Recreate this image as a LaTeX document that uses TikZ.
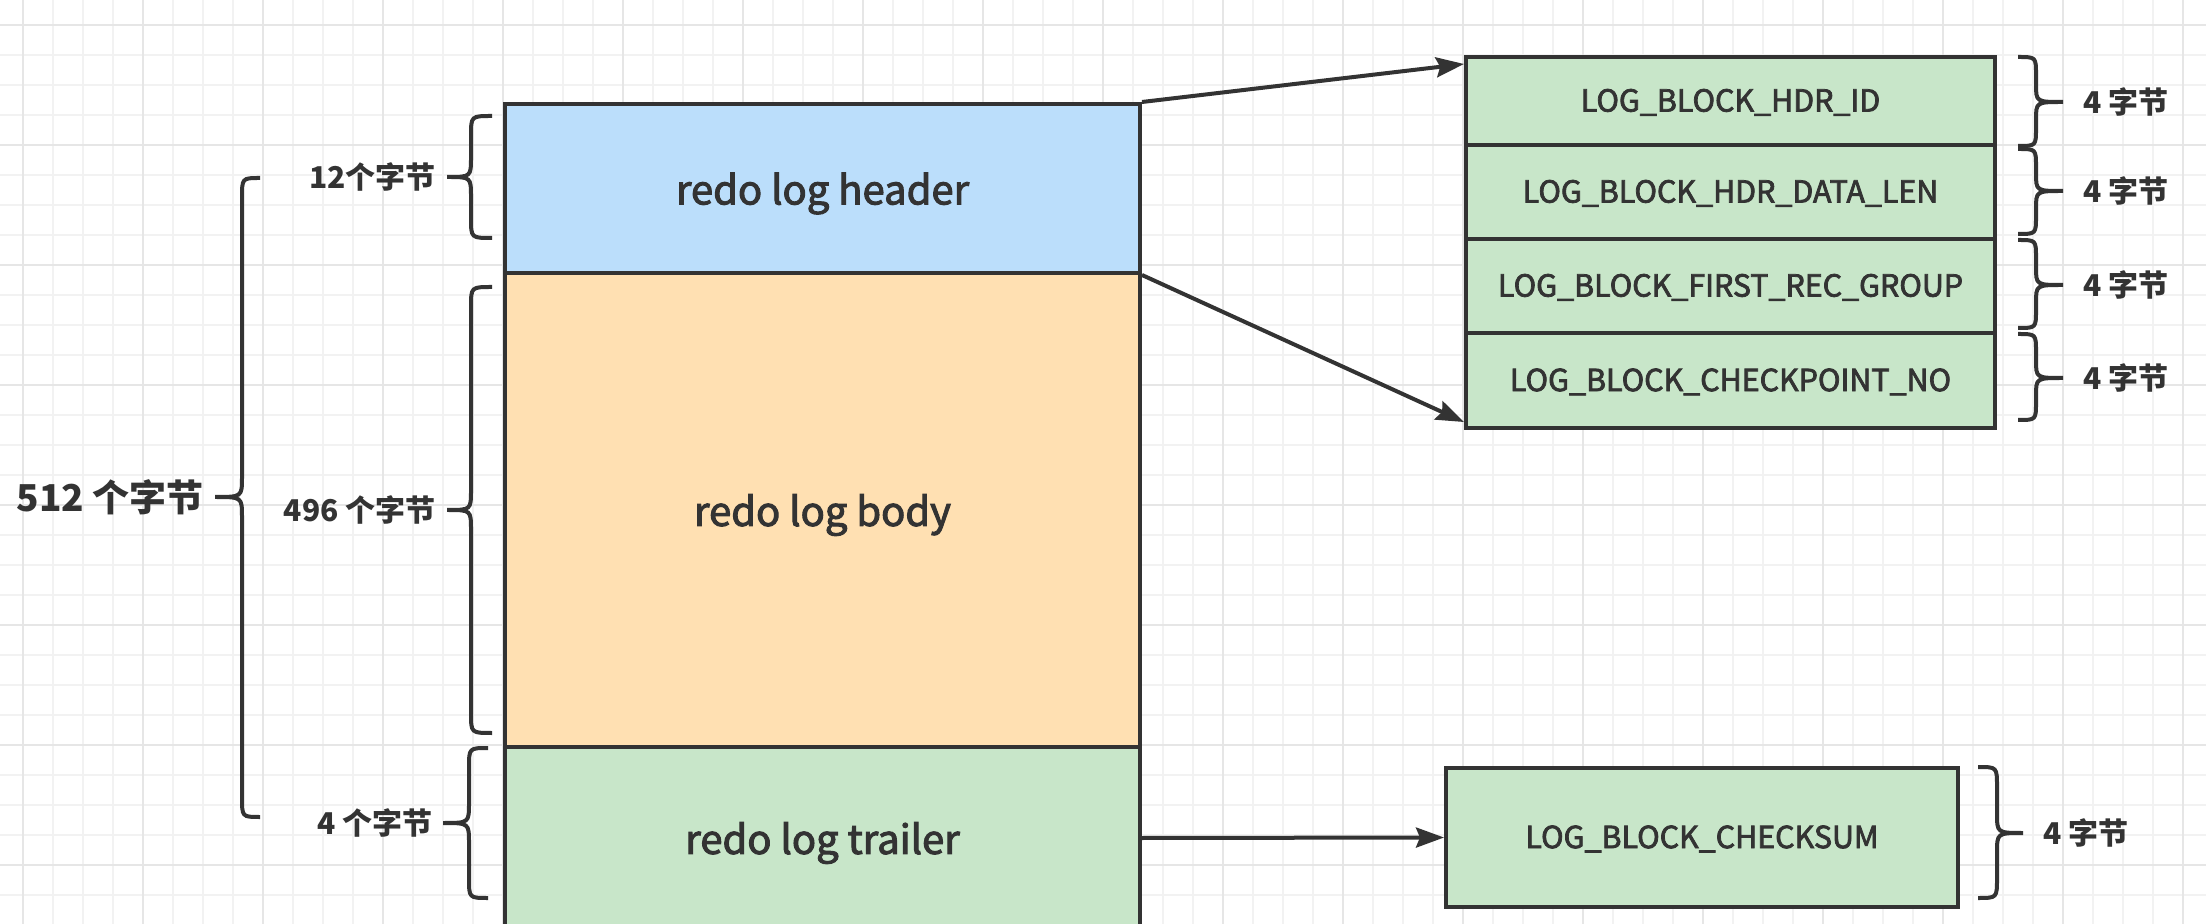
\documentclass[tikz,border=0pt]{standalone}
\usepackage{fontspec}
\setmainfont{Noto Sans CJK SC}
\newfontfamily\medfont{Noto Sans CJK SC}[FakeBold=2.5]
\usetikzlibrary{arrows.meta}
\definecolor{ink}{HTML}{333333}
\definecolor{hdrblue}{HTML}{BBDEFB}
\definecolor{bodyorange}{HTML}{FFE0B2}
\definecolor{fieldgreen}{HTML}{C8E6C9}
\definecolor{gridminor}{HTML}{F2F2F2}
\definecolor{gridmajor}{HTML}{E6E6E6}
\newcommand{\lowtxt}[1]{\raisebox{-2.5pt}[\height][\depth]{#1}}
\newcommand{\lowfld}[1]{\raisebox{-0.7pt}[\height][\depth]{#1}}
\tikzset{
  blk/.style={draw=ink, line width=2pt, text=ink, inner sep=0pt, minimum width=317.5pt, font=\medfont\fontsize{20}{24}\selectfont},
  fld/.style={draw=ink, line width=2pt, fill=fieldgreen, text=ink, inner sep=0pt, minimum width=264.5pt, font=\medfont\fontsize{15.2}{18}\selectfont},
  arr/.style={draw=ink, line width=2pt, -{Stealth[length=14pt,width=10pt,inset=2pt]}},
  brc/.style={draw=ink, line width=2pt},
  lbl/.style={text=ink, inner sep=0pt, font=\fontsize{15}{18}\selectfont\bfseries},
}
\begin{document}
\begin{tikzpicture}[x=0.5pt,y=-0.5pt]
\useasboundingbox (0,0) rectangle (2206,924);
\fill[white] (0,0) rectangle (2206,924);
% grid
\foreach \gx in {23,53,...,2206} {\draw[gridminor, line width=0.6pt] (\gx,0) -- (\gx,924);}
\foreach \gy in {25,55,...,924} {\draw[gridminor, line width=0.6pt] (0,\gy) -- (2206,\gy);}
\foreach \gx in {23,143,...,2206} {\draw[gridmajor, line width=0.8pt] (\gx,0) -- (\gx,924);}
\foreach \gy in {25,145,...,924} {\draw[gridmajor, line width=0.8pt] (0,\gy) -- (2206,\gy);}

% main blocks
\node[blk, fill=hdrblue, minimum height=84.5pt] (hdr) at (822.5,188.5) {\lowtxt{redo log header}};
\node[blk, fill=bodyorange, minimum height=237pt] (body) at (822.5,510) {\lowtxt{redo log body}};
\node[blk, fill=fieldgreen, minimum height=91pt] (trl) at (822.5,838) {\lowtxt{redo log trailer}};

% header fields
\node[fld, minimum height=44pt] (f1) at (1730.5,101) {\lowfld{LOG\_BLOCK\_HDR\_ID}};
\node[fld, minimum height=47pt] (f2) at (1730.5,192) {\lowfld{LOG\_BLOCK\_HDR\_DATA\_LEN}};
\node[fld, minimum height=47pt] (f3) at (1730.5,286) {\lowfld{LOG\_BLOCK\_FIRST\_REC\_GROUP}};
\node[fld, minimum height=47.5pt] (f4) at (1730.5,380.5) {\lowfld{LOG\_BLOCK\_CHECKPOINT\_NO}};
\node[fld, minimum width=256pt, minimum height=69.5pt] (cs) at (1702,837.5) {\lowfld{LOG\_BLOCK\_CHECKSUM}};

% arrows
\draw[arr] (hdr.north east) -- ([yshift=-4.5pt]f1.north west);
\draw[arr] (hdr.south east) -- ([yshift=4pt]f4.south west);
\draw[arr] (trl.east) -- (cs.west);

% left braces
\draw[brc] (492,116) .. controls (471,116) .. (471,136) -- (471,157) .. controls (471,177) .. (447,177) .. controls (471,177) .. (471,197) -- (471,218) .. controls (471,238) .. (492,238);
\draw[brc] (492,287) .. controls (471,287) .. (471,307) -- (471,490) .. controls (471,510) .. (447,510) .. controls (471,510) .. (471,530) -- (471,713) .. controls (471,733) .. (492,733);
\draw[brc] (488,748) .. controls (469,748) .. (469,768) -- (469,803) .. controls (469,823) .. (443,823) .. controls (469,823) .. (469,843) -- (469,878) .. controls (469,898) .. (488,898);
\draw[brc] (260,178) .. controls (242,178) .. (242,198) -- (242,477) .. controls (242,497) .. (215,497) .. controls (242,497) .. (242,517) -- (242,797) .. controls (242,817) .. (260,817);

\node[lbl, anchor=east] (l12) at (436,177) {12个字节};
\node[lbl, anchor=east] (l496) at (436,510) {496 个字节};
\node[lbl, anchor=east] (l4) at (433,823) {4 个字节};
\node[lbl, anchor=east, font=\fontsize{18.5}{22}\selectfont\bfseries] (l512) at (204,497) {512 个字节};

% right braces
\foreach \yt/\ym/\yb/\nm in {57/102/146/r1, 149/191/234/r2, 240/285/328/r3, 334/378/420/r4} {
  \draw[brc] (2018,\yt) .. controls (2036,\yt) .. (2036,\yt+18) -- (2036,\ym-18) .. controls (2036,\ym) .. (2063,\ym) .. controls (2036,\ym) .. (2036,\ym+18) -- (2036,\yb-18) .. controls (2036,\yb) .. (2018,\yb);
  \node[lbl, anchor=west] (\nm) at (2083,\ym) {4 字节};
}
\draw[brc] (1978,767) .. controls (1997,767) .. (1997,787) -- (1997,813) .. controls (1997,833) .. (2023,833) .. controls (1997,833) .. (1997,853) -- (1997,878) .. controls (1997,898) .. (1978,898);
\node[lbl, anchor=west] (r5) at (2043,833) {4 字节};
\end{tikzpicture}
\end{document}
